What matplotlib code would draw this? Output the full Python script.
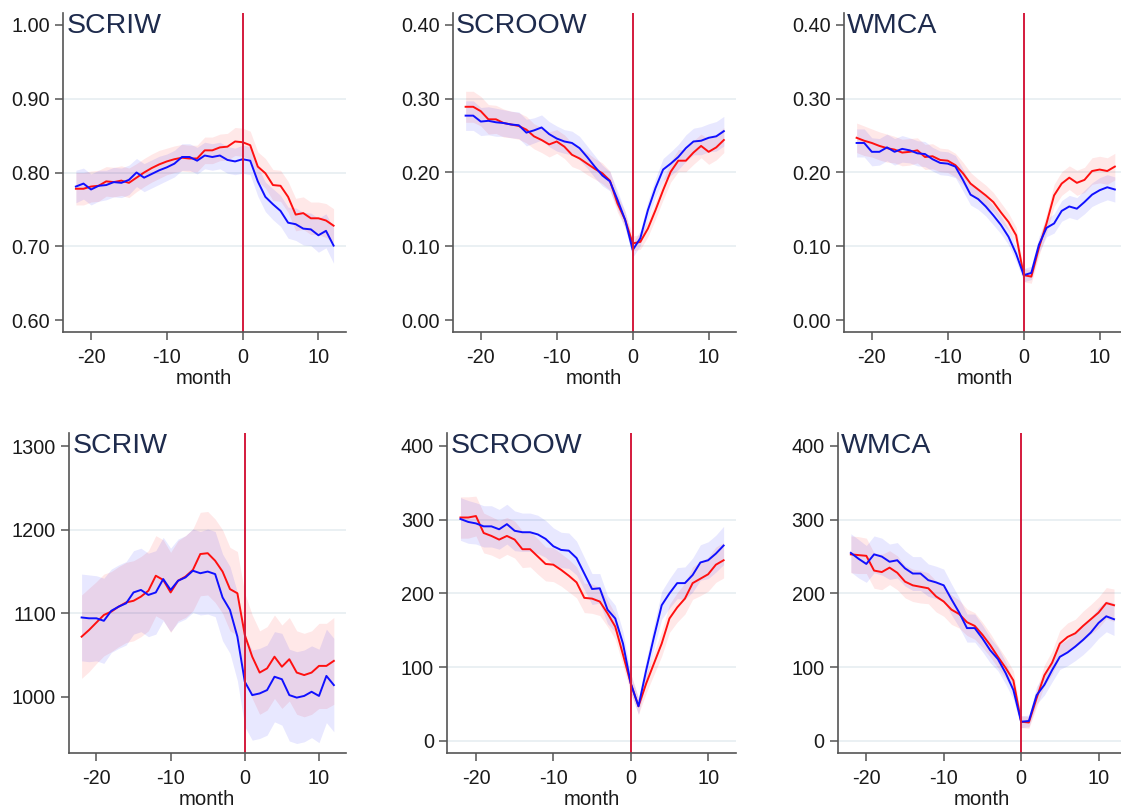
import matplotlib
matplotlib.use("Agg")
import matplotlib.pyplot as plt
import numpy as np

plt.rcParams["font.family"] = ["Liberation Sans", "DejaVu Sans"]
plt.rcParams["axes.unicode_minus"] = False

months = list(range(-22, 13))

# top row: shares
scriw_share_red = [0.778, 0.778, 0.781, 0.782, 0.788, 0.787, 0.789, 0.786, 0.793, 0.800,
                   0.806, 0.811, 0.815, 0.818, 0.820, 0.819, 0.819, 0.830, 0.830, 0.834,
                   0.835, 0.842, 0.841, 0.837, 0.808, 0.799, 0.783, 0.782, 0.767, 0.743,
                   0.745, 0.738, 0.738, 0.735, 0.728]
scriw_share_blue = [0.781, 0.785, 0.777, 0.782, 0.783, 0.787, 0.786, 0.790, 0.800, 0.793,
                    0.798, 0.803, 0.807, 0.812, 0.821, 0.821, 0.816, 0.823, 0.821, 0.823,
                    0.817, 0.815, 0.818, 0.816, 0.788, 0.767, 0.757, 0.748, 0.732, 0.730,
                    0.724, 0.723, 0.715, 0.721, 0.701]
scriw_share_red_ci = [0.022, 0.022, 0.021, 0.021, 0.020, 0.020, 0.020, 0.020, 0.019, 0.019,
                      0.019, 0.019, 0.018, 0.018, 0.018, 0.018, 0.018, 0.018, 0.018, 0.018,
                      0.018, 0.019, 0.019, 0.019, 0.020, 0.020, 0.021, 0.021, 0.021, 0.022,
                      0.022, 0.022, 0.022, 0.023, 0.023]
scriw_share_blue_ci = [0.022, 0.021, 0.021, 0.021, 0.020, 0.020, 0.020, 0.020, 0.019, 0.019,
                       0.019, 0.019, 0.018, 0.018, 0.018, 0.018, 0.018, 0.018, 0.018, 0.018,
                       0.018, 0.018, 0.019, 0.019, 0.020, 0.020, 0.021, 0.021, 0.021, 0.022,
                       0.022, 0.022, 0.023, 0.023, 0.024]

scroow_share_red = [0.289, 0.289, 0.283, 0.272, 0.272, 0.267, 0.265, 0.263, 0.258, 0.249,
                    0.244, 0.238, 0.242, 0.235, 0.224, 0.219, 0.212, 0.205, 0.199, 0.189,
                    0.158, 0.136, 0.104, 0.106, 0.124, 0.149, 0.176, 0.201, 0.216, 0.216,
                    0.227, 0.236, 0.228, 0.234, 0.244]
scroow_share_blue = [0.277, 0.277, 0.269, 0.270, 0.268, 0.267, 0.265, 0.264, 0.254, 0.257,
                     0.261, 0.252, 0.246, 0.242, 0.240, 0.233, 0.221, 0.208, 0.196, 0.188,
                     0.163, 0.136, 0.095, 0.111, 0.149, 0.179, 0.204, 0.212, 0.221, 0.233,
                     0.242, 0.243, 0.247, 0.249, 0.256]
scroow_share_red_ci = [0.021, 0.021, 0.020, 0.020, 0.019, 0.019, 0.018, 0.018, 0.018, 0.017,
                       0.017, 0.017, 0.016, 0.016, 0.016, 0.015, 0.015, 0.014, 0.014, 0.013,
                       0.012, 0.011, 0.010, 0.010, 0.011, 0.012, 0.013, 0.014, 0.015, 0.015,
                       0.016, 0.016, 0.017, 0.017, 0.017]
scroow_share_blue_ci = [0.020, 0.020, 0.019, 0.019, 0.019, 0.018, 0.018, 0.018, 0.018, 0.017,
                        0.017, 0.017, 0.017, 0.016, 0.016, 0.016, 0.015, 0.015, 0.014, 0.013,
                        0.012, 0.011, 0.010, 0.010, 0.012, 0.013, 0.015, 0.016, 0.017, 0.018,
                        0.018, 0.019, 0.019, 0.020, 0.020]

wmca_share_red = [0.247, 0.243, 0.240, 0.236, 0.233, 0.231, 0.227, 0.228, 0.230, 0.221,
                  0.222, 0.217, 0.216, 0.210, 0.199, 0.185, 0.177, 0.169, 0.160, 0.146,
                  0.133, 0.115, 0.061, 0.059, 0.098, 0.131, 0.169, 0.185, 0.193, 0.186,
                  0.190, 0.202, 0.204, 0.202, 0.208]
wmca_share_blue = [0.240, 0.240, 0.228, 0.228, 0.234, 0.228, 0.232, 0.230, 0.226, 0.225,
                   0.218, 0.213, 0.212, 0.208, 0.190, 0.170, 0.164, 0.154, 0.142, 0.129,
                   0.113, 0.090, 0.061, 0.064, 0.102, 0.125, 0.131, 0.148, 0.154, 0.151,
                   0.160, 0.170, 0.176, 0.180, 0.177]
wmca_share_red_ci = [0.020, 0.020, 0.019, 0.019, 0.019, 0.018, 0.018, 0.018, 0.017, 0.017,
                     0.017, 0.016, 0.016, 0.016, 0.015, 0.015, 0.014, 0.014, 0.013, 0.013,
                     0.012, 0.011, 0.009, 0.009, 0.011, 0.013, 0.015, 0.016, 0.016, 0.017,
                     0.017, 0.018, 0.018, 0.018, 0.018]
wmca_share_blue_ci = [0.019, 0.019, 0.019, 0.018, 0.018, 0.018, 0.018, 0.017, 0.017, 0.017,
                      0.016, 0.016, 0.016, 0.015, 0.015, 0.014, 0.014, 0.013, 0.013, 0.012,
                      0.011, 0.010, 0.009, 0.009, 0.011, 0.012, 0.013, 0.014, 0.015, 0.015,
                      0.016, 0.016, 0.017, 0.017, 0.017]

# bottom row: levels
scriw_level_red = [1072, 1080, 1089, 1098, 1102, 1108, 1113, 1115, 1120, 1127,
                   1145, 1140, 1125, 1139, 1144, 1152, 1171, 1172, 1163, 1150,
                   1129, 1124, 1074, 1048, 1029, 1034, 1048, 1036, 1045, 1029,
                   1026, 1029, 1037, 1037, 1043]
scriw_level_blue = [1095, 1094, 1094, 1091, 1103, 1108, 1112, 1125, 1128, 1122,
                    1125, 1141, 1128, 1139, 1143, 1151, 1148, 1150, 1147, 1119,
                    1104, 1072, 1018, 1002, 1004, 1008, 1024, 1021, 1002, 999,
                    1001, 1006, 1001, 1025, 1014]
scriw_level_red_ci = [50, 50, 49, 49, 48, 48, 48, 48, 48, 48,
                      48, 48, 48, 48, 49, 49, 50, 50, 50, 50,
                      50, 50, 50, 50, 50, 50, 50, 50, 50, 50,
                      50, 50, 51, 51, 52]
scriw_level_blue_ci = [52, 52, 51, 51, 50, 50, 50, 50, 50, 50,
                       50, 50, 50, 50, 50, 50, 50, 51, 51, 52,
                       52, 53, 54, 54, 54, 54, 54, 55, 55, 55,
                       55, 55, 56, 56, 56]

scroow_level_red = [303, 303, 305, 282, 278, 273, 278, 273, 260, 260,
                    250, 240, 239, 232, 224, 215, 194, 193, 189, 173,
                    155, 117, 78, 47, 78, 105, 132, 166, 181, 193,
                    214, 220, 226, 239, 245]
scroow_level_blue = [301, 297, 295, 291, 291, 287, 294, 285, 283, 283,
                     280, 274, 264, 259, 258, 248, 227, 206, 207, 178,
                     166, 132, 78, 47, 96, 141, 184, 200, 214, 214,
                     225, 242, 245, 254, 265]
scroow_level_red_ci = [28, 28, 27, 27, 26, 26, 25, 25, 25, 24,
                       24, 23, 23, 22, 22, 21, 20, 20, 19, 18,
                       17, 15, 13, 11, 13, 15, 17, 19, 20, 21,
                       22, 23, 23, 24, 24]
scroow_level_blue_ci = [29, 29, 28, 28, 28, 27, 27, 27, 26, 26,
                        26, 25, 25, 24, 24, 23, 22, 21, 20, 19,
                        18, 16, 13, 11, 14, 16, 19, 20, 21, 22,
                        23, 24, 25, 25, 26]

wmca_level_red = [253, 252, 251, 231, 229, 235, 228, 216, 211, 209,
                  207, 196, 189, 178, 172, 161, 156, 144, 130, 114,
                  99, 82, 26, 25, 58, 89, 106, 132, 141, 146,
                  156, 165, 174, 187, 184]
wmca_level_blue = [255, 247, 240, 253, 250, 243, 245, 234, 227, 227,
                   218, 215, 211, 192, 174, 153, 153, 139, 123, 111,
                   92, 69, 26, 27, 62, 76, 96, 114, 120, 128,
                   137, 147, 160, 169, 165]
wmca_level_red_ci = [25, 25, 24, 24, 24, 23, 23, 22, 22, 22,
                     21, 21, 20, 20, 19, 18, 18, 17, 16, 15,
                     14, 13, 8, 8, 12, 14, 16, 18, 19, 19,
                     20, 20, 21, 21, 22]
wmca_level_blue_ci = [26, 26, 25, 25, 25, 24, 24, 24, 23, 23,
                      22, 22, 22, 21, 20, 19, 19, 18, 17, 16,
                      15, 13, 8, 8, 12, 14, 16, 17, 18, 19,
                      20, 20, 21, 21, 22]

titles = ["SCRIW", "SCROOW", "WMCA", "SCRIW", "SCROOW", "WMCA"]

panels = [
    (scriw_share_red, scriw_share_red_ci, scriw_share_blue, scriw_share_blue_ci),
    (scroow_share_red, scroow_share_red_ci, scroow_share_blue, scroow_share_blue_ci),
    (wmca_share_red, wmca_share_red_ci, wmca_share_blue, wmca_share_blue_ci),
    (scriw_level_red, scriw_level_red_ci, scriw_level_blue, scriw_level_blue_ci),
    (scroow_level_red, scroow_level_red_ci, scroow_level_blue, scroow_level_blue_ci),
    (wmca_level_red, wmca_level_red_ci, wmca_level_blue, wmca_level_blue_ci),
]

yticks = [
    [0.6, 0.7, 0.8, 0.9, 1.0],
    [0.0, 0.1, 0.2, 0.3, 0.4],
    [0.0, 0.1, 0.2, 0.3, 0.4],
    [1000, 1100, 1200, 1300],
    [0, 100, 200, 300, 400],
    [0, 100, 200, 300, 400],
]
ylims = [(0.584, 1.016), (-0.016, 0.416), (-0.016, 0.416),
         (933, 1316), (-16, 417.6), (-16, 417.6)]
yfmt = ["%.2f", "%.2f", "%.2f", "%d", "%d", "%d"]

# axes boxes in pixels: left, right, top, bottom
W, H = 1121, 808
boxes = [
    (63, 345.7, 13, 332),
    (452.7, 736, 13, 332),
    (843.7, 1127, 13, 332),
    (69, 345.7, 433, 752.7),
    (447.3, 736, 433, 752.7),
    (837.7, 1126.4, 433, 752.7),
]

fig = plt.figure(figsize=(W / 100, H / 100), dpi=100)

for i in range(6):
    l, r, t, b = boxes[i]
    ax = fig.add_axes([l / W, (H - b) / H, (r - l) / W, (b - t) / H])
    red, red_ci, blue, blue_ci = panels[i]
    x = np.array(months)
    red = np.array(red)
    blue = np.array(blue)
    red_ci = np.array(red_ci)
    blue_ci = np.array(blue_ci)

    for v in yticks[i][1:-1]:
        ax.axhline(v, color="#e6eef1", lw=1.2, zorder=0)
    if i >= 4:
        ax.axhline(yticks[i][0], color="#e6eef1", lw=1.2, zorder=0)

    ax.fill_between(x, red - red_ci, red + red_ci, color="#ff0000", alpha=0.09, lw=0)
    ax.fill_between(x, blue - blue_ci, blue + blue_ci, color="#0000ff", alpha=0.09, lw=0)
    ax.plot(x, red, color="#ff1010", lw=1.4)
    ax.plot(x, blue, color="#1010ff", lw=1.4)
    ax.axvline(0, color="#d41a3c", lw=1.4)

    ax.set_xlim(-23.7, 13.6)
    ax.set_ylim(ylims[i])
    ax.set_xticks([-20, -10, 0, 10])
    ax.set_yticks(yticks[i])
    ax.set_yticklabels([yfmt[i] % v for v in yticks[i]])

    for side in ["top", "right"]:
        ax.spines[side].set_visible(False)
    for side in ["left", "bottom"]:
        ax.spines[side].set_color("#555555")
        ax.spines[side].set_linewidth(1.2)
    ax.tick_params(direction="out", length=5.5, width=1.1, color="#555555",
                   labelsize=14.3, labelcolor="#1a1a1a")
    ax.tick_params(axis="x", pad=6)
    ax.tick_params(axis="y", pad=4)
    ax.set_xlabel("month", fontsize=14.6, color="#1a1a1a", labelpad=1.5)

    ax.text(0.012, 1.0, titles[i], transform=ax.transAxes, ha="left", va="top",
            fontsize=20.5, color="#1e2b4d")

fig.savefig("out.png", dpi=100)
